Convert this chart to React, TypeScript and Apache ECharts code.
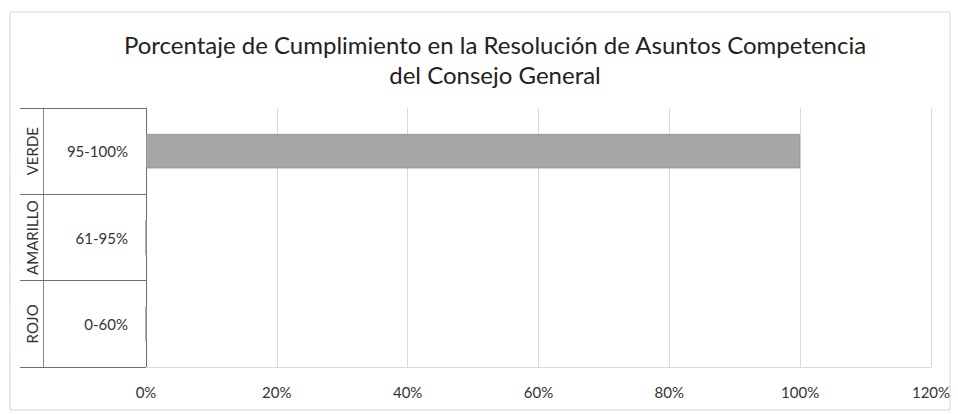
import React, { useEffect, useRef } from "react";
import * as echarts from "echarts";

const titleLines = [
  "Porcentaje de Cumplimiento en la Resolución de Asuntos Competencia",
  "del Consejo General",
];
const outerCategories = ["ROJO", "AMARILLO", "VERDE"];
const innerCategories = ["0-60%", "61-95%", "95-100%"];
const values = [0, 0, 100];
const xTicks = { min: 0, max: 120, interval: 20 };

const FONT = "Lato, 'Open Sans', sans-serif";
const TEXT = "#333333";

export default function App() {
  const ref = useRef<HTMLDivElement>(null);
  useEffect(() => {
    if (!ref.current) return;
    const chart = echarts.init(ref.current, null, { renderer: "svg" });
    chart.setOption({
      animation: false,
      backgroundColor: "#ffffff",
      textStyle: { fontFamily: FONT },
      title: {
        text: titleLines.join("\n"),
        left: 490,
        top: 24,
        textAlign: "center",
        textStyle: {
          fontFamily: FONT,
          fontSize: 24,
          fontWeight: "normal",
          color: "#222222",
          lineHeight: 30,
        },
      },
      graphic: [
        {
          type: "rect",
          shape: { x: 10, y: 12, width: 940, height: 398 },
          style: { fill: "none", stroke: "#d6d6d6", lineWidth: 1 },
          silent: true,
          z: -10,
        },
      ],
      grid: { left: 146, right: 27, top: 108, bottom: 48 },
      xAxis: {
        type: "value",
        min: xTicks.min,
        max: xTicks.max,
        interval: xTicks.interval,
        axisLine: { show: true, lineStyle: { color: "#d9d9d9" } },
        axisTick: { show: false },
        splitLine: { show: true, lineStyle: { color: "#d9d9d9", width: 1 } },
        axisLabel: {
          formatter: "{value}%",
          color: TEXT,
          fontSize: 15,
          fontFamily: FONT,
          margin: 17,
        },
      },
      yAxis: [
        {
          type: "category",
          data: innerCategories,
          position: "left",
          axisLine: { show: true, lineStyle: { color: "#6f6f6f", width: 1 } },
          axisTick: {
            show: true,
            length: 126,
            lineStyle: { color: "#6f6f6f", width: 1 },
          },
          axisLabel: {
            interval: 0,
            color: TEXT,
            fontSize: 15,
            fontFamily: FONT,
            margin: 18,
          },
        },
        {
          type: "category",
          data: outerCategories,
          position: "left",
          offset: 103,
          axisLine: { show: true, lineStyle: { color: "#8a8a8a", width: 1 } },
          axisTick: { show: false },
          axisLabel: {
            interval: 0,
            hideOverlap: false,
            rotate: 90,
            color: TEXT,
            fontSize: 15,
            fontFamily: FONT,
            margin: 4,
          },
        },
      ],
      series: [
        {
          type: "bar",
          yAxisIndex: 0,
          data: values,
          barCategoryGap: "60%",
          itemStyle: { color: "#a6a6a6", borderColor: "#959595", borderWidth: 1 },
        },
      ],
    });
    return () => chart.dispose();
  }, []);
  return (
    <div
      ref={ref}
      style={{ position: "fixed", left: 0, top: 0, width: 958, height: 415 }}
    />
  );
}
